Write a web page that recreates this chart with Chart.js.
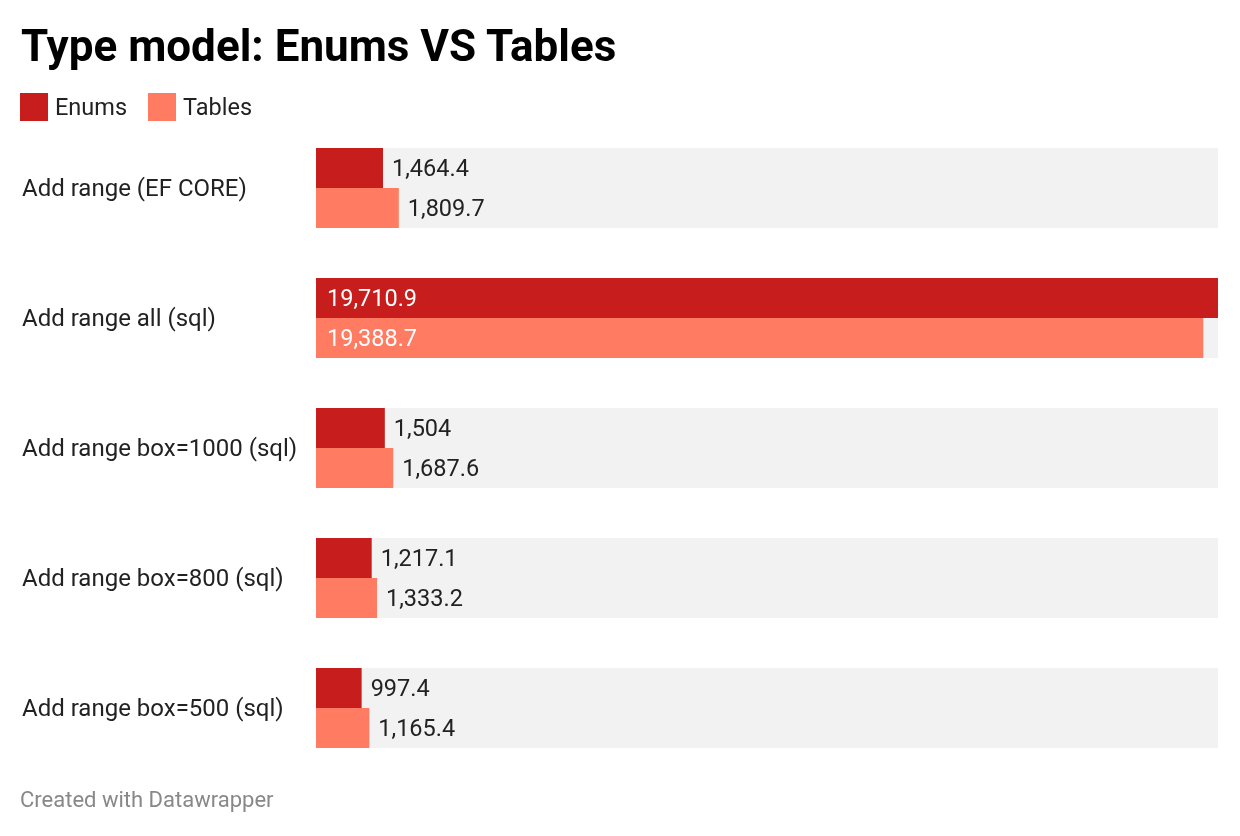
<!DOCTYPE html>
<html>
<head>
<meta charset="utf-8">
<script src="https://cdn.jsdelivr.net/npm/chart.js@4"></script>
<style>
  body { margin: 0; background: #fff; font-family: Roboto, sans-serif; }
  #wrap { position: relative; width: 1240px; height: 836px; }
  h1 { position: absolute; left: 21px; top: 19px; margin: 0; font-size: 44px; font-weight: 700; color: #000; line-height: 54px; }
  .legend { position: absolute; top: 93px; left: 20px; display: flex; font-size: 23.5px; color: #222; line-height: 28px; }
  .legend span.sw { display: inline-block; width: 28px; height: 28px; margin-right: 7px; }
  .legend .item { display: flex; margin-right: 21px; }
  .footer { position: absolute; left: 20px; top: 787px; font-size: 22px; color: #888; }
  canvas { position: absolute; left: 0; top: 0; }
</style>
</head>
<body>
<div id="wrap">
  <canvas id="chart" width="1240" height="836"></canvas>
  <h1>Type model: Enums VS Tables</h1>
  <div class="legend" id="legend"></div>
  <div class="footer">Created with Datawrapper</div>
</div>
<script>
const categories = ['Add range (EF CORE)', 'Add range all (sql)', 'Add range box=1000 (sql)', 'Add range box=800 (sql)', 'Add range box=500 (sql)'];
const enums = [1464.4, 19710.9, 1504, 1217.1, 997.4];
const tables = [1809.7, 19388.7, 1687.6, 1333.2, 1165.4];
const seriesNames = ['Enums', 'Tables'];
const colors = ['#c71e1d', '#ff7b61'];

const legend = document.getElementById('legend');
seriesNames.forEach((name, i) => {
    const item = document.createElement('div');
    item.className = 'item';
    item.innerHTML = '<span class="sw" style="background:' + colors[i] + '"></span>' + name;
    legend.appendChild(item);
});

function fmt(v) {
    return v.toLocaleString('en-US', { maximumFractionDigits: 1 });
}

// grey band behind each group of bars
const bandPlugin = {
    id: 'bands',
    beforeDatasetsDraw(chart) {
        const ctx = chart.ctx;
        const area = chart.chartArea;
        const meta0 = chart.getDatasetMeta(0);
        const meta1 = chart.getDatasetMeta(1);
        ctx.save();
        ctx.fillStyle = '#f2f2f2';
        meta0.data.forEach((bar, i) => {
            const top = bar.y - bar.height / 2;
            const b = meta1.data[i];
            const bottom = b.y + b.height / 2;
            ctx.fillRect(area.left, top, area.right - area.left, bottom - top);
        });
        ctx.restore();
    }
};

const valuePlugin = {
    id: 'values',
    afterDatasetsDraw(chart) {
        const ctx = chart.ctx;
        const area = chart.chartArea;
        ctx.save();
        ctx.font = '23.5px Roboto';
        ctx.textBaseline = 'middle';
        ctx.textAlign = 'left';
        chart.data.datasets.forEach((ds, di) => {
            chart.getDatasetMeta(di).data.forEach((bar, i) => {
                const txt = fmt(ds.data[i]);
                const w = ctx.measureText(txt).width;
                if (bar.x + 10 + w > area.right) {
                    ctx.fillStyle = '#fff';
                    ctx.fillText(txt, area.left + 11, bar.y + 2);
                } else {
                    ctx.fillStyle = '#222';
                    ctx.fillText(txt, bar.x + 9, bar.y + 2);
                }
            });
        });
        ctx.restore();
    }
};

new Chart(document.getElementById('chart'), {
    type: 'bar',
    data: {
        labels: categories,
        datasets: [
            { label: seriesNames[0], data: enums, backgroundColor: colors[0] },
            { label: seriesNames[1], data: tables, backgroundColor: colors[1] }
        ]
    },
    options: {
        indexAxis: 'y',
        responsive: false,
        animation: false,
        layout: { padding: { left: 22, right: 22, top: 123, bottom: 63 } },
        datasets: { bar: { categoryPercentage: 80 / 130, barPercentage: 1.0 } },
        plugins: { legend: { display: false }, tooltip: { enabled: false } },
        scales: {
            x: { display: false, min: 0, max: 19710.9 },
            y: {
                grid: { display: false },
                border: { display: false },
                afterFit(scale) { scale.width = 294; },
                ticks: { crossAlign: 'far', color: '#222', font: { family: 'Roboto', size: 24 }, padding: 0, labelOffset: 2 }
            }
        }
    },
    plugins: [bandPlugin, valuePlugin]
});
</script>
</body>
</html>
